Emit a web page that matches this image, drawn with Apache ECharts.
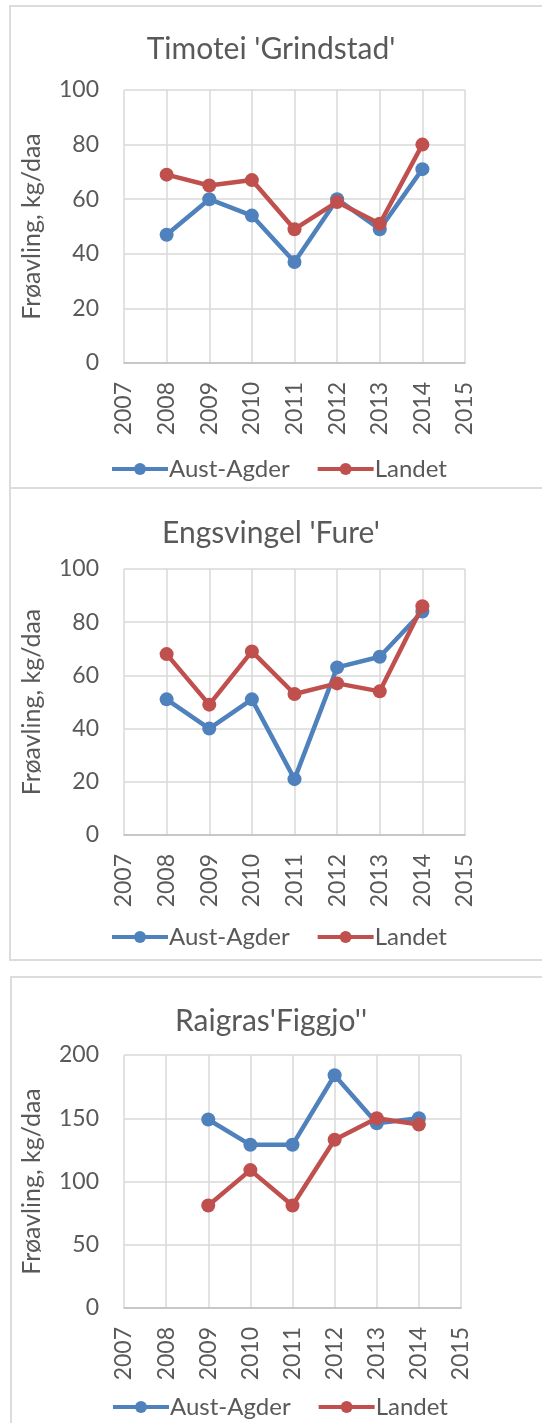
<!DOCTYPE html>
<html>
<head>
<meta charset="utf-8">
<script src="https://cdn.jsdelivr.net/npm/echarts@6/dist/echarts.min.js"></script>
<style>
html,body{margin:0;padding:0;background:#fff;overflow:hidden;}
#wrap{position:relative;width:542px;height:1423px;}
.frame{position:absolute;border:2px solid #DCDCDC;box-sizing:border-box;}
#chart{position:absolute;left:0;top:0;width:542px;height:1423px;}
</style>
</head>
<body>
<div id="wrap">
<div class="frame" style="left:9px;top:5px;width:560px;height:484px;"></div>
<div class="frame" style="left:9px;top:487px;width:560px;height:474px;"></div>
<div class="frame" style="left:10px;top:976px;width:560px;height:470px;"></div>
<div id="chart"></div>
</div>
<script>
// Data
const years = [2008, 2009, 2010, 2011, 2012, 2013, 2014];
const years3 = [2009, 2010, 2011, 2012, 2013, 2014];
const titles = ["Timotei 'Grindstad'", "Engsvingel 'Fure'", "Raigras'Figgjo''"];
const seriesNames = ["Aust-Agder", "Landet"];
const timoteiAust = [47, 60, 54, 37, 60, 49, 71];
const timoteiLandet = [69, 65, 67, 49, 59, 51, 80];
const engsvingelAust = [51, 40, 51, 21, 63, 67, 84];
const engsvingelLandet = [68, 49, 69, 53, 57, 54, 86];
const raigrasAust = [149, 129, 129, 184, 146, 150];
const raigrasLandet = [81, 109, 81, 133, 150, 145];
const yMax = [100, 100, 200];
const yStep = [20, 20, 50];
const xMin = 2007, xMax = 2015;

const blue = '#4F81BD', red = '#C0504D';
const txt = '#595959';
const font = 'Lato';

const grids = [
  {left: 124, top: 90, width: 341, height: 273},
  {left: 124, top: 569, width: 341, height: 266},
  {left: 124, top: 1055, width: 337, height: 253}
];
const titleTops = [29, 513, 1001];
const legendTops = [452, 920, 1390];
const legendLefts = [105, 105, 106];

function pairs(xs, ys){ return xs.map((x,i)=>[x, ys[i]]); }
const dataSets = [
  [pairs(years, timoteiAust), pairs(years, timoteiLandet)],
  [pairs(years, engsvingelAust), pairs(years, engsvingelLandet)],
  [pairs(years3, raigrasAust), pairs(years3, raigrasLandet)]
];

const option = {
  animation: false,
  backgroundColor: 'transparent',
  title: titles.map((t,i)=>({
    text: t, left: 'center', top: titleTops[i],
    textStyle: {fontFamily: font, fontSize: 30, fontWeight: 'normal', color: txt}
  })),
  legend: [0,1,2].map(i=>({
    left: legendLefts[i], top: legendTops[i],
    itemWidth: 56, itemHeight: 15, itemGap: 26,
    lineStyle: {width: 4},
    textStyle: {fontFamily: font, fontSize: 24, color: txt, padding: [0,0,0,-4]},
    data: seriesNames
  })),
  grid: grids,
  xAxis: [0,1,2].map(i=>({
    type: 'value', gridIndex: i, min: xMin, max: xMax, interval: 1,
    axisLine: {show: true, lineStyle: {color: '#BFBFBF', width: 1.5}},
    axisTick: {show: false},
    splitLine: {show: true, lineStyle: {color: '#D9D9D9', width: 1.5}},
    axisLabel: {rotate: 90, margin: 19, fontFamily: font, fontSize: 23, color: txt,
      formatter: v => String(v)}
  })),
  yAxis: [0,1,2].map(i=>({
    type: 'value', gridIndex: i, min: 0, max: yMax[i], interval: yStep[i],
    name: 'Frøavling, kg/daa', nameLocation: 'middle', nameGap: 80,
    nameTextStyle: {fontFamily: font, fontSize: 25, color: txt},
    axisLine: {show: false},
    axisTick: {show: false},
    splitLine: {show: true, lineStyle: {color: '#D9D9D9', width: 1.5}},
    axisLabel: {margin: 25, fontFamily: font, fontSize: 23, color: txt}
  })),
  series: []
};
[0,1,2].forEach(i=>{
  seriesNames.forEach((n,j)=>{
    option.series.push({
      name: n, type: 'line', xAxisIndex: i, yAxisIndex: i,
      data: dataSets[i][j],
      symbol: 'circle', symbolSize: 14,
      lineStyle: {width: 4.5, color: j===0?blue:red},
      itemStyle: {color: j===0?blue:red},
      z: j===0?2:3
    });
  });
});
const chart = echarts.init(document.getElementById('chart'), null, {renderer: 'canvas'});
chart.setOption(option);
</script>
</body>
</html>
